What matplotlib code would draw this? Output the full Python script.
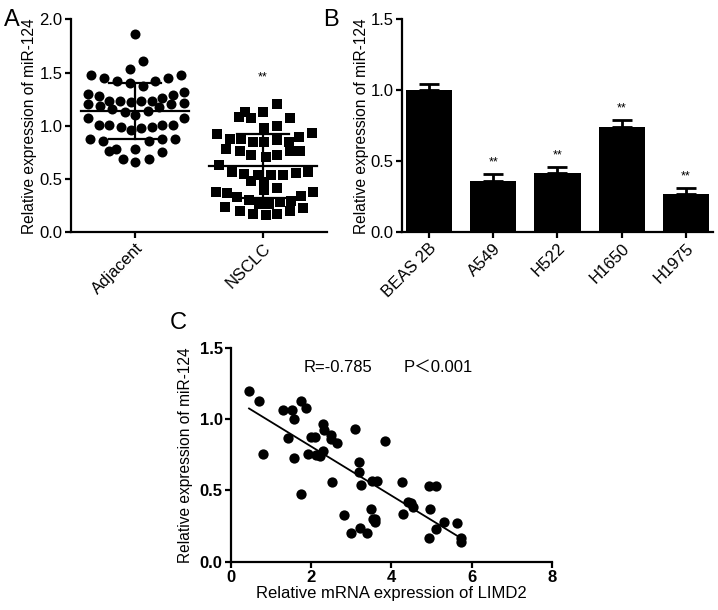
import matplotlib
matplotlib.use('Agg')
import matplotlib.pyplot as plt
import numpy as np

plt.rcParams['font.family'] = ['Liberation Sans', 'Noto Sans CJK SC', 'DejaVu Sans']

# ---- panel A: tissue scatter (x = horizontal jitter offset, y = value)
adj_dx = [0.0, 0.06, -0.04, -0.34, -0.24, -0.14, -0.04, 0.06, 0.16, 0.26, 0.36,
          -0.37, -0.28, 0.38, 0.30, -0.37, -0.27, -0.20, -0.12, -0.03, 0.05, 0.13,
          0.21, 0.28, 0.38, -0.18, -0.08, 0.0, 0.10, 0.19, -0.37, 0.38, -0.28, -0.20,
          -0.11, -0.03, 0.05, 0.13, 0.21, 0.30, -0.35, -0.25, 0.11, 0.21, 0.31,
          -0.20, -0.15, 0.0, 0.21, -0.09, 0.0, 0.11]
adj_y = [1.86, 1.61, 1.53, 1.48, 1.45, 1.42, 1.40, 1.37, 1.42, 1.45, 1.48,
         1.30, 1.28, 1.32, 1.29, 1.20, 1.19, 1.23, 1.23, 1.22, 1.23, 1.23,
         1.26, 1.20, 1.21, 1.16, 1.13, 1.10, 1.14, 1.18, 1.07, 1.07, 1.01, 1.01,
         0.99, 0.96, 0.98, 0.99, 1.01, 1.01, 0.88, 0.86, 0.86, 0.88, 0.88,
         0.76, 0.78, 0.78, 0.75, 0.69, 0.66, 0.69]
nsclc_dx = [0.11, 0.0, -0.14, -0.19, -0.09, 0.21, 0.11, 0.01, -0.36, -0.26, -0.17,
            -0.08, 0.01, 0.11, 0.20, 0.28, 0.38, -0.29, -0.18, -0.09, 0.02, 0.11,
            0.21, 0.29, -0.34, -0.24, -0.15, -0.04, 0.06, 0.16, 0.26, 0.35, -0.09,
            0.01, 0.11, 0.01, -0.37, -0.28, 0.39, 0.30, -0.20, -0.11, -0.03, 0.05,
            0.13, 0.22, -0.30, 0.31, -0.18, -0.08, 0.02, 0.11, 0.21]
nsclc_y = [1.20, 1.13, 1.13, 1.08, 1.07, 1.07, 1.00, 0.98, 0.92, 0.88, 0.88,
           0.85, 0.85, 0.87, 0.85, 0.89, 0.93, 0.78, 0.76, 0.73, 0.71, 0.73,
           0.76, 0.76, 0.63, 0.57, 0.55, 0.54, 0.54, 0.54, 0.56, 0.57, 0.48,
           0.47, 0.42, 0.40, 0.38, 0.37, 0.38, 0.34, 0.33, 0.30, 0.27, 0.27,
           0.28, 0.29, 0.24, 0.23, 0.20, 0.17, 0.16, 0.17, 0.20]
groups = ['Adjacent', 'NSCLC']
group_mean = [1.14, 0.62]
group_sd = [0.26, 0.30]

# ---- panel B: cell lines
cells = ['BEAS 2B', 'A549', 'H522', 'H1650', 'H1975']
cell_val = [1.00, 0.36, 0.42, 0.74, 0.27]
cell_err = [0.045, 0.05, 0.04, 0.05, 0.04]
cell_sig = ['', '**', '**', '**', '**']

# ---- panel C: correlation
limd2 = [0.45, 0.69, 0.80, 1.30, 1.53, 1.56, 1.43, 1.56, 1.74, 1.86, 1.74, 1.93,
         2.00, 2.10, 2.12, 2.23, 2.29, 2.29, 2.32, 2.49, 2.49, 2.63, 2.52, 3.09,
         2.82, 2.98, 3.18, 3.18, 3.23, 3.21, 3.40, 3.48, 3.51, 3.63, 3.53, 3.58,
         3.58, 3.83, 4.27, 4.29, 4.40, 4.49, 4.54, 4.93, 5.10, 4.97, 4.93, 5.10,
         5.31, 5.64, 5.72, 5.72]
mir124 = [1.196, 1.126, 0.757, 1.065, 1.065, 0.998, 0.867, 0.727, 1.126, 1.075,
          0.477, 0.757, 0.871, 0.871, 0.748, 0.738, 0.778, 0.967, 0.923, 0.890,
          0.857, 0.834, 0.556, 0.928, 0.327, 0.201, 0.699, 0.628, 0.540, 0.238,
          0.203, 0.367, 0.568, 0.568, 0.301, 0.301, 0.278, 0.848, 0.556, 0.332,
          0.421, 0.409, 0.381, 0.528, 0.528, 0.369, 0.168, 0.231, 0.280, 0.273,
          0.164, 0.140]

LW = 1.6
fig = plt.figure(figsize=(7.18, 6.10), dpi=100)


def style_axes(ax, size=12):
    for s in ['top', 'right']:
        ax.spines[s].set_visible(False)
    for s in ['left', 'bottom']:
        ax.spines[s].set_linewidth(LW)
    ax.tick_params(direction='out', width=LW, length=4, pad=2, labelsize=size)


# Panel A
axA = fig.add_axes([0.0989, 0.6192, 0.3565, 0.3492])
style_axes(axA)
axA.scatter(np.array(adj_dx) + 0, adj_y, s=52, c='black', marker='o', linewidths=0, zorder=3)
axA.scatter(np.array(nsclc_dx) + 1, nsclc_y, s=44, c='black', marker='s', linewidths=0, zorder=3)
for i in range(len(groups)):
    m, sd = group_mean[i], group_sd[i]
    axA.plot([i - 0.42, i + 0.42], [m, m], color='black', lw=LW, zorder=4)
    axA.plot([i, i], [m - sd, m + sd], color='black', lw=LW, zorder=4)
    for yy in (m - sd, m + sd):
        axA.plot([i - 0.2, i + 0.2], [yy, yy], color='black', lw=LW, zorder=4)
axA.text(1, 1.45, '**', ha='center', va='center', fontsize=9)
axA.set_xlim(-0.5, 1.5)
axA.set_ylim(0, 2.0)
axA.set_yticks([0, 0.5, 1.0, 1.5, 2.0])
axA.set_yticklabels(['%.1f' % v for v in [0, 0.5, 1.0, 1.5, 2.0]])
axA.set_xticks([0, 1])
axA.set_xticklabels(groups, rotation=45, ha='right', rotation_mode='anchor')
axA.set_ylabel('Relative expression of miR-124', fontsize=11.2, labelpad=2)
fig.text(0.005, 0.958, 'A', fontsize=17)

# Panel B
axB = fig.add_axes([0.5599, 0.6192, 0.4331, 0.3492])
style_axes(axB)
xb = np.arange(len(cells))
axB.bar(xb, cell_val, width=0.72, color='black', zorder=2)
axB.errorbar(xb, cell_val, yerr=[np.zeros(len(cells)), cell_err], fmt='none',
             ecolor='black', elinewidth=LW + 0.4, capsize=7, capthick=LW + 0.4, zorder=1)
for i in range(len(cells)):
    if cell_sig[i]:
        axB.text(xb[i], cell_val[i] + cell_err[i] + 0.04, cell_sig[i],
                 ha='center', va='bottom', fontsize=9)
axB.set_xlim(-0.42, 4.42)
axB.set_ylim(0, 1.5)
axB.set_yticks([0, 0.5, 1.0, 1.5])
axB.set_yticklabels(['%.1f' % v for v in [0, 0.5, 1.0, 1.5]])
axB.set_xticks(xb)
axB.set_xticklabels(cells, rotation=45, ha='right', rotation_mode='anchor')
axB.set_ylabel('Relative expression of miR-124', fontsize=11.2, labelpad=1)
fig.text(0.450, 0.958, 'B', fontsize=17)

# Panel C
axC = fig.add_axes([0.3217, 0.0792, 0.4471, 0.3508])
style_axes(axC, size=12)
axC.scatter(limd2, mir124, s=55, c='black', linewidths=0, zorder=3)
k, b = np.polyfit(limd2, mir124, 1)
xf = np.array([min(limd2), max(limd2)])
axC.plot(xf, k * xf + b, color='black', lw=1.3, zorder=2)
axC.text(1.8, 1.36, 'R=-0.785', fontsize=12, va='center')
axC.text(4.29, 1.36, 'P＜0.001', fontsize=12, va='center')
axC.set_xlim(0, 8)
axC.set_ylim(0, 1.5)
axC.set_xticks([0, 2, 4, 6, 8])
axC.set_yticks([0, 0.5, 1.0, 1.5])
axC.set_yticklabels(['%.1f' % v for v in [0, 0.5, 1.0, 1.5]])
for lab in axC.get_xticklabels() + axC.get_yticklabels():
    lab.set_fontweight('bold')
axC.tick_params(axis='x', pad=2)
axC.set_xlabel('Relative mRNA expression of LIMD2', fontsize=12, labelpad=1)
axC.set_ylabel('Relative expression of miR-124', fontsize=11.2, labelpad=5)
fig.text(0.236, 0.460, 'C', fontsize=17)

fig.savefig('out.png', dpi=100)
